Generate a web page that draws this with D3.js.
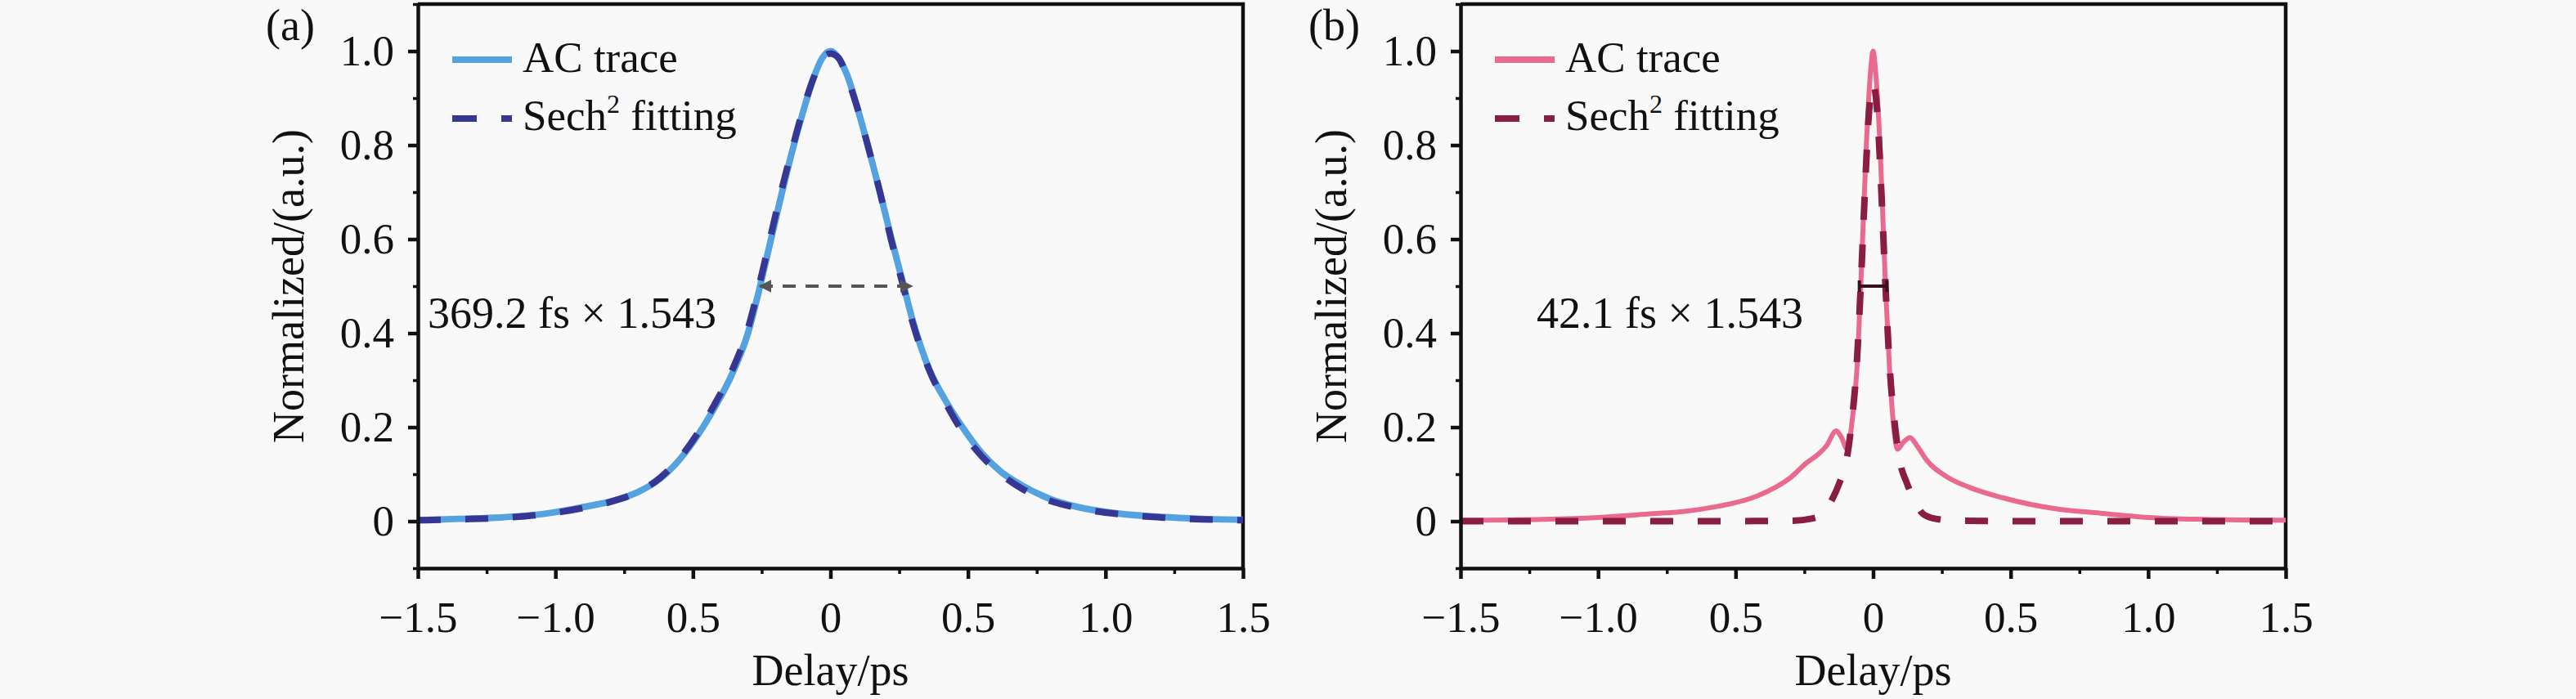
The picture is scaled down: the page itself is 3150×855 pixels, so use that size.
<!DOCTYPE html>
<meta charset="utf-8">
<style>
body { margin: 0; background: #f9f9f9; }
text { font-family: "Liberation Serif", "Times New Roman", serif; fill: #111; }
.axis text { font-size: 53px; }
.axis path, .axis line { stroke: #111; stroke-width: 4.5; }
.minor line { stroke-width: 3.5; }
</style>
<svg width="3150" height="855"></svg>
<script src="https://d3js.org/d3.v7.min.js"></script>
<script>

// tick labels (the reference prints "0.5" on the negative side too)
var xTickVals = [-1.5, -1.0, -0.5, 0, 0.5, 1.0, 1.5]
var xTickLabels = ["\u22121.5", "\u22121.0", "0.5", "0", "0.5", "1.0", "1.5"]
var xMinor = [-1.25, -0.75, -0.25, 0.25, 0.75, 1.25]
var yTickVals = [0, 0.2, 0.4, 0.6, 0.8, 1.0]
var yTickLabels = ["0", "0.2", "0.4", "0.6", "0.8", "1.0"]
var yMinor = [-0.1, 0.1, 0.3, 0.5, 0.7, 0.9, 1.1]

// (a) AC trace + sech2 fit
var aDelay = [-1.5, -1.35, -1.2, -1.05, -0.9, -0.8, -0.7, -0.62, -0.55, -0.48, -0.42, -0.36, -0.3, -0.26, -0.22, -0.18, -0.14, -0.1, -0.06, -0.03, 0,
  0.03, 0.06, 0.1, 0.14, 0.18, 0.22, 0.26, 0.3, 0.36, 0.42, 0.48, 0.55, 0.62, 0.7, 0.8, 0.9, 1.05, 1.2, 1.35, 1.5]
var aTrace = [0.002, 0.005, 0.008, 0.015, 0.03, 0.042, 0.062, 0.09, 0.13, 0.185, 0.243, 0.31, 0.40, 0.49, 0.59, 0.69, 0.785, 0.87, 0.945, 0.985, 1.0,
  0.985, 0.95, 0.875, 0.79, 0.70, 0.605, 0.515, 0.425, 0.322, 0.255, 0.20, 0.145, 0.105, 0.075, 0.047, 0.03, 0.016, 0.009, 0.005, 0.003]
var aFit = [0.002, 0.004, 0.007, 0.014, 0.028, 0.041, 0.062, 0.092, 0.133, 0.19, 0.25, 0.318, 0.41, 0.50, 0.60, 0.70, 0.79, 0.875, 0.945, 0.985, 0.995,
  0.985, 0.945, 0.875, 0.79, 0.70, 0.60, 0.51, 0.42, 0.32, 0.25, 0.19, 0.138, 0.10, 0.068, 0.043, 0.028, 0.015, 0.008, 0.004, 0.002]

// (b) AC trace with side lobes
var bDelay = [-1.5, -1.2, -1.0, -0.8, -0.7, -0.57, -0.42, -0.3, -0.24, -0.2, -0.17, -0.134, -0.115, -0.094, -0.075, -0.059, -0.045, -0.025, -0.01, 0,
  0.01, 0.025, 0.045, 0.06, 0.075, 0.089, 0.11, 0.134, 0.16, 0.193, 0.272, 0.35, 0.47, 0.668, 0.826, 1.0, 1.2, 1.5]
var bTrace = [0.002, 0.004, 0.008, 0.016, 0.02, 0.031, 0.054, 0.093, 0.125, 0.142, 0.16, 0.192, 0.178, 0.153, 0.22, 0.322, 0.499, 0.795, 0.952, 1.0,
  0.95, 0.80, 0.50, 0.32, 0.20, 0.153, 0.168, 0.178, 0.16, 0.131, 0.093, 0.072, 0.05, 0.026, 0.017, 0.008, 0.004, 0.002]
// (b) sech2 fit
var bFitDelay = [-1.5, -0.6, -0.3, -0.22, -0.18, -0.15, -0.12, -0.1, -0.08, -0.06, -0.045, -0.03, -0.015, 0,
  0.015, 0.03, 0.045, 0.06, 0.08, 0.1, 0.12, 0.15, 0.18, 0.22, 0.3, 0.6, 1.5]
var bFit = [0, 0, 0.001, 0.006, 0.016, 0.045, 0.085, 0.12, 0.2, 0.33, 0.5, 0.7, 0.87, 0.93,
  0.87, 0.7, 0.5, 0.33, 0.2, 0.12, 0.085, 0.045, 0.016, 0.006, 0.001, 0, 0]

var svg = d3.select("svg")
var W = 1009, H = 690, plotTop = 5

var defs = svg.append("defs")
defs.append("marker").attr("id", "arr").attr("viewBox", "0 0 10 10")
  .attr("refX", 9).attr("refY", 5).attr("markerWidth", 4).attr("markerHeight", 4)
  .attr("orient", "auto-start-reverse")
  .append("path").attr("d", "M0,0L10,5L0,10z").attr("fill", "#555")

function panel(left, o) {
  var x = d3.scaleLinear().domain([-1.5, 1.5]).range([left, left + W])
  var y = d3.scaleLinear().domain([-0.1, 1.1]).range([plotTop + H, plotTop])
  var g = svg.append("g")

  // top / right frame
  g.append("path")
    .attr("d", "M" + left + "," + plotTop + "H" + (left + W) + "V" + (plotTop + H))
    .attr("fill", "none").attr("stroke", "#111").attr("stroke-width", 4.5)

  var line = d3.line().x(function(d){ return x(d[0]) }).y(function(d){ return y(d[1]) })
    .curve(d3.curveMonotoneX)

  g.append("path").datum(d3.zip(o.delay, o.trace))
    .attr("d", line).attr("fill", "none")
    .attr("stroke", o.traceColor).attr("stroke-width", o.traceWidth).attr("stroke-linejoin", "round")

  g.append("path").datum(d3.zip(o.fitDelay, o.fit))
    .attr("d", line).attr("fill", "none")
    .attr("stroke", o.fitColor).attr("stroke-width", 8).attr("stroke-dasharray", "28,30")

  // half-maximum marker
  if (o.arrow) {
    g.append("line").attr("x1", x(o.fwhm[0])).attr("x2", x(o.fwhm[1]))
      .attr("y1", y(0.5)).attr("y2", y(0.5))
      .attr("stroke", "#555").attr("stroke-width", 4).attr("stroke-dasharray", "16,12")
      .attr("marker-start", "url(#arr)").attr("marker-end", "url(#arr)")
  } else {
    g.append("path")
      .attr("d", "M" + x(o.fwhm[0]) + "," + (y(0.5) - 7) + "v14M" + x(o.fwhm[0]) + "," + y(0.5) +
        "H" + x(o.fwhm[1]) + "M" + x(o.fwhm[1]) + "," + (y(0.5) - 7) + "v14")
      .attr("stroke", "#3b1020").attr("stroke-width", 4).attr("fill", "none")
  }

  // axes
  g.append("g").attr("class", "axis").attr("transform", "translate(0," + (plotTop + H) + ")")
    .call(d3.axisBottom(x).tickValues(xTickVals).tickSize(13).tickSizeOuter(0).tickPadding(27)
      .tickFormat(function(d, i){ return xTickLabels[i] }))
  g.append("g").attr("class", "axis minor").attr("transform", "translate(0," + (plotTop + H) + ")")
    .call(d3.axisBottom(x).tickValues(xMinor).tickSize(7).tickFormat(""))
    .select(".domain").remove()
  g.append("g").attr("class", "axis").attr("transform", "translate(" + left + ",0)")
    .call(d3.axisLeft(y).tickValues(yTickVals).tickSize(12).tickSizeOuter(0).tickPadding(17)
      .tickFormat(function(d, i){ return yTickLabels[i] }))
  g.append("g").attr("class", "axis minor").attr("transform", "translate(" + left + ",0)")
    .call(d3.axisLeft(y).tickValues(yMinor).tickSize(6).tickFormat(""))
    .select(".domain").remove()
  g.selectAll(".axis text").attr("fill", "#111").style("font-family", "'Liberation Serif', serif")

  // axis titles
  g.append("text").attr("x", left + W / 2).attr("y", 838).attr("text-anchor", "middle")
    .attr("font-size", 54).text("Delay/ps")
  g.append("text").attr("transform", "translate(" + (left - 140) + "," + (plotTop + H / 2) + ") rotate(-90)")
    .attr("text-anchor", "middle").attr("font-size", 54).text("Normalized/(a.u.)")
  g.append("text").attr("x", left - 186).attr("y", 49).attr("font-size", 54).text(o.tag)

  // annotation
  g.append("text").attr("x", left + o.noteDx).attr("y", 401).attr("font-size", 54).text(o.note)

  // legend
  var lx = left + 42
  g.append("line").attr("x1", lx).attr("x2", lx + 73).attr("y1", 73).attr("y2", 73)
    .attr("stroke", o.traceColor).attr("stroke-width", 8)
  g.append("text").attr("x", lx + 86).attr("y", 88).attr("font-size", 53).text("AC trace")
  g.append("line").attr("x1", lx).attr("x2", lx + 73).attr("y1", 145).attr("y2", 145)
    .attr("stroke", o.fitColor).attr("stroke-width", 8).attr("stroke-dasharray", "30,30")
  var t = g.append("text").attr("x", lx + 86).attr("y", 159).attr("font-size", 53)
  t.append("tspan").text("Sech")
  t.append("tspan").attr("font-size", 32).attr("dy", -21).text("2")
  t.append("tspan").attr("dy", 21).text(" fitting")
}

panel(511, {
  tag: "(a)", delay: aDelay, trace: aTrace, fitDelay: aDelay, fit: aFit,
  traceColor: "#55a2e0", traceWidth: 8, fitColor: "#363694",
  arrow: true, fwhm: [-0.257, 0.296], note: "369.2 fs \u00d7 1.543", noteDx: 12
})
panel(1786, {
  tag: "(b)", delay: bDelay, trace: bTrace, fitDelay: bFitDelay, fit: bFit,
  traceColor: "#ea6a8f", traceWidth: 6, fitColor: "#8a1d42",
  arrow: false, fwhm: [-0.05, 0.05], note: "42.1 fs \u00d7 1.543", noteDx: 93
})

</script>
